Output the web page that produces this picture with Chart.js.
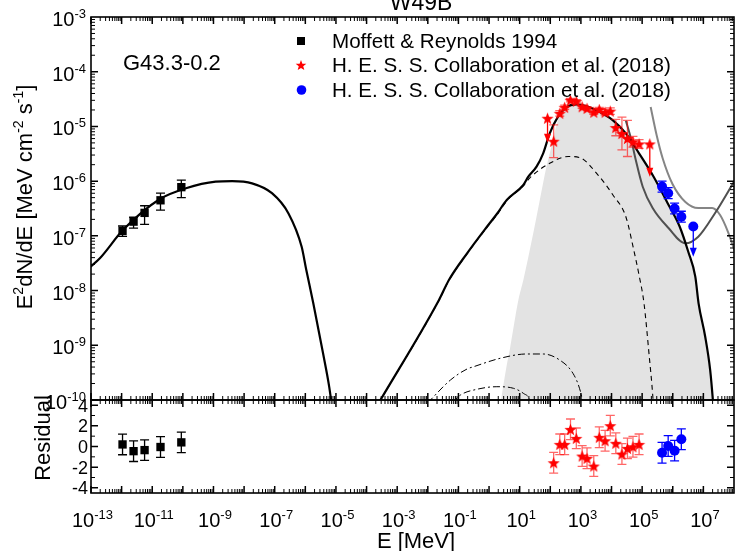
<!DOCTYPE html>
<html>
<head>
<meta charset="utf-8">
<title>W49B SED</title>
<script src="https://cdn.jsdelivr.net/npm/chart.js@4.4.1/dist/chart.umd.min.js"></script>
<style>
  html, body { margin: 0; padding: 0; background: #fff; }
  #wrap { position: relative; width: 741px; height: 551px; overflow: hidden; }
  #wrap canvas { position: absolute; left: 0; top: 0; }
</style>
</head>
<body>
<div id="wrap">
  <canvas id="sedChart" width="741" height="551"></canvas>
  <canvas id="resChart" width="741" height="551"></canvas>
</div>
<script>
// values: log10(E / MeV) and log10(E^2 dN/dE / MeV cm^-2 s^-1)

const chartTitle = 'W49B';
const sourceName = 'G43.3-0.2';
const legendLabels = ['Moffett & Reynolds 1994', 'H. E. S. S. Collaboration et al. (2018)', 'H. E. S. S. Collaboration et al. (2018)'];

// tick labels (exponents of ten) and residual ticks
const xTickExps = [-13, -11, -9, -7, -5, -3, -1, 1, 3, 5, 7];
const yTickExps = [-3, -4, -5, -6, -7, -8, -9, -10];
const resTickLabels = [4, 2, 0, -2, -4];

// radio points (Moffett & Reynolds 1994)
const radioLogE = [-11.97, -11.61, -11.25, -10.73, -10.05];
const radioLogF = [-6.91, -6.74, -6.58, -6.35, -6.11];
const radioLogFLo = [-7.01, -6.86, -6.79, -6.53, -6.30];
const radioLogFHi = [-6.82, -6.66, -6.45, -6.22, -5.98];
const radioRes = [0.2, -0.45, -0.35, -0.05, 0.4];

// GeV points (red stars)
const hessLogE = [2.11, 2.31, 2.47, 2.66, 2.85, 3.04, 3.20, 3.42, 3.60, 3.79, 3.96, 4.14, 4.34, 4.52, 4.70, 4.90];
const hessLogF = [-5.27, -4.76, -4.65, -4.52, -4.54, -4.64, -4.67, -4.74, -4.69, -4.74, -4.72, -5.02, -5.13, -5.22, -5.28, -5.32];
const hessErr = [0.3, 0.05, 0.04, 0.03, 0.03, 0.03, 0.03, 0.04, 0.04, 0.05, 0.06, 0.15, 0.3, 0.33, 0.1, 0.08];
const hessRes = [-1.57, 0.21, 0.21, 1.66, 0.79, -0.92, -1.14, -1.89, 0.89, 0.56, 2.02, 0.31, -0.73, -0.18, -0.02, 0.21];
const hessUlLogE = [1.91, 5.25];
const hessUlLogF = [-4.85, -5.32];
const hessUlTo = [-5.30, -5.92];

// TeV points (blue circles)
const tevLogE = [5.65, 5.85, 6.06, 6.28];
const tevLogF = [-6.10, -6.22, -6.50, -6.65];
const tevErr = [0.1, 0.1, 0.1, 0.1];
const tevRes = [-0.6, 0.05, -0.4, 0.7];
const tevUlLogE = [6.67];
const tevUlLogF = [-6.83];
const tevUlTo = [-7.38];

// model curves
const synLogE = [-13.05, -12.71, -11.95, -10.76, -9.90, -8.93, -8.39, -7.74, -7.09, -6.55, -6.12, -5.97, -5.74, -5.42, -5.22, -5.10];
const synLogF = [-7.58, -7.41, -6.89, -6.33, -6.13, -6.01, -6.00, -6.04, -6.22, -6.59, -7.20, -7.62, -8.23, -9.15, -9.76, -10.25];

const totLogE = [-3.62, -1.635, -1.311, -0.718, -0.069, 0.255, 0.579, 1.120, 1.282, 1.551, 1.768, 1.982, 2.254, 2.523, 2.847, 3.171, 3.602, 4.037, 4.468, 4.898, 5.375, 5.829, 6.218, 6.509, 6.736, 6.843, 7.060, 7.222, 7.310, 7.36];
const totLogF = [-10.07, -8.172, -7.807, -7.319, -6.833, -6.60, -6.345, -6.070, -5.919, -5.736, -5.491, -5.126, -4.822, -4.650, -4.596, -4.627, -4.731, -4.883, -5.126, -5.491, -5.919, -6.400, -6.820, -7.295, -7.746, -8.233, -8.843, -9.452, -10.0, -10.4];

const icLogE = [-3.62, -1.635, -1.311, -0.718, -0.069, 0.255, 0.579, 1.120, 1.334, 1.982, 2.588, 2.955, 3.560, 4.046, 4.468, 4.727, 4.898, 5.061, 5.223, 5.353, 5.40];
const icLogF = [-10.07, -8.18, -7.815, -7.33, -6.845, -6.62, -6.36, -6.085, -5.94, -5.674, -5.550, -5.568, -5.888, -6.253, -6.650, -7.259, -7.715, -8.233, -9.147, -9.969, -10.4];

const pionLogE = [0.36, 0.579, 0.676, 0.958, 1.120, 1.444, 1.658, 1.875, 2.037, 2.254, 2.523, 2.847, 3.171, 3.602, 4.037, 4.468, 4.898, 5.375, 5.829, 6.218, 6.509, 6.736, 6.843, 7.060, 7.222, 7.310, 7.36];
const pionLogF = [-10.1, -9.36, -9.086, -8.172, -7.807, -6.953, -6.345, -5.736, -5.370, -4.883, -4.663, -4.608, -4.64, -4.74, -4.89, -5.13, -5.50, -5.925, -6.405, -6.825, -7.30, -7.75, -8.235, -8.845, -9.455, -10.0, -10.4];

const dd1LogE = [-2.0, -1.259, -0.718, -0.5, 0.362, 1.227, 1.768, 2.306, 2.740, 2.954, 3.042, 3.08];
const dd1LogF = [-10.05, -9.634, -9.433, -9.391, -9.238, -9.159, -9.159, -9.269, -9.512, -9.786, -10.0, -10.2];
const dd2LogE = [-1.2, -0.935, -0.394, 0.255, 0.796, 1.120, 1.334, 1.40];
const dd2LogF = [-10.05, -9.909, -9.804, -9.757, -9.786, -9.878, -10.0, -10.15];

// sensitivity curves
const sens1LogE = [4.468, 4.630, 4.792, 5.019, 5.343, 5.861, 6.412, 6.833, 7.384, 8.033];
const sens1LogF = [-4.895, -5.211, -5.614, -6.102, -6.491, -6.856, -7.136, -7.016, -6.582, -5.979];
const sens2LogE = [5.278, 5.472, 5.667, 5.991, 6.412, 6.833, 7.287, 7.546, 7.806, 8.033];
const sens2LogF = [-4.645, -5.157, -5.577, -6.052, -6.381, -6.491, -6.491, -6.619, -6.930, -7.295];

const FONT = "'Liberation Sans', Arial, sans-serif";
const p10 = v => Math.pow(10, v);
const pts = (le, lf) => le.map((e, i) => ({ x: p10(e), y: p10(lf[i]) }));
const resPts = (le, r) => le.map((e, i) => ({ x: p10(e), y: r[i] }));

function makeStar(color, ro) {
  const s = Math.ceil(ro * 2 + 2), c = document.createElement('canvas');
  c.width = c.height = s;
  const g = c.getContext('2d');
  g.fillStyle = color;
  g.beginPath();
  for (let i = 0; i < 10; i++) {
    const r = i % 2 ? ro * 0.42 : ro;
    const a = -Math.PI / 2 + i * Math.PI / 5;
    g.lineTo(s / 2 + r * Math.cos(a), s / 2 + ro * 0.1 + r * Math.sin(a));
  }
  g.closePath();
  g.fill();
  return c;
}
const redStar = makeStar('#ff0000', 6.4);
const legendStar = makeStar('#ff0000', 5.6);

function rich(ctx, parts, x, y, align, size, supSize, rise) {
  let w = 0;
  parts.forEach(([t, sup]) => { ctx.font = `${sup ? supSize : size}px ${FONT}`; w += ctx.measureText(t).width; });
  let cx = align === 'center' ? x - w / 2 : align === 'right' ? x - w : x;
  ctx.textAlign = 'left';
  ctx.textBaseline = 'alphabetic';
  parts.forEach(([t, sup]) => {
    ctx.font = `${sup ? supSize : size}px ${FONT}`;
    ctx.fillText(t, cx, sup ? y - rise : y);
    cx += ctx.measureText(t).width;
  });
}
const power = (ctx, e, x, y, align) => rich(ctx, [['10'], [String(e), 1]], x, y, align, 20, 13, 8);

// inward ticks on all four sides of a panel
const frame = {
  id: 'frame',
  afterDatasetsDraw(chart) {
    const { ctx, chartArea: a } = chart;
    const xs = chart.scales.x, ys = chart.scales.y;
    ctx.save();
    ctx.strokeStyle = '#000';
    const minor = new Path2D(), major = new Path2D();
    const seg = (p, x1, y1, x2, y2) => { p.moveTo(x1, y1); p.lineTo(x2, y2); };
    for (let e = -13; e < 8; e++) {
      for (let m = 1; m <= 9; m++) {
        const px = xs.getPixelForValue(m * p10(e));
        const p = m === 1 ? major : minor, len = m === 1 ? 7 : 4;
        seg(p, px, a.top, px, a.top + len);
        seg(p, px, a.bottom, px, a.bottom - len);
      }
    }
    if (ys.type === 'logarithmic') {
      for (let e = -10; e < -3; e++) {
        for (let m = 1; m <= 9; m++) {
          const py = ys.getPixelForValue(m * p10(e));
          const p = m === 1 ? major : minor, len = m === 1 ? 7 : 4;
          seg(p, a.left, py, a.left + len, py);
          seg(p, a.right, py, a.right - len, py);
        }
      }
    } else {
      for (let v = -4; v <= 4; v++) {
        const py = ys.getPixelForValue(v);
        const p = v % 2 === 0 ? major : minor, len = v % 2 === 0 ? 7 : 4;
        seg(p, a.left, py, a.left + len, py);
        seg(p, a.right, py, a.right - len, py);
      }
    }
    ctx.lineWidth = 1;
    ctx.stroke(minor);
    ctx.lineWidth = 1.5;
    ctx.stroke(major);
    ctx.lineWidth = 1.6;
    ctx.strokeRect(a.left, a.top, a.width, a.height);
    ctx.restore();
  }
};

// error bars and upper-limit arrows, drawn just under each marker dataset
const errorBars = {
  id: 'errorBars',
  beforeDatasetDraw(chart, args) {
    const ds = chart.data.datasets[args.index];
    if (!ds.errLo && !ds.ulTo) return;
    const { ctx } = chart;
    const xs = chart.scales.x, ys = chart.scales.y;
    ctx.save();
    ctx.strokeStyle = ds.errColor;
    ctx.fillStyle = ds.errColor;
    ctx.lineWidth = 1.3;
    ds.data.forEach((p, i) => {
      const px = xs.getPixelForValue(p.x);
      if (ds.errLo) {
        const t = ys.getPixelForValue(ds.errHi[i]), b = ys.getPixelForValue(ds.errLo[i]);
        ctx.beginPath();
        ctx.moveTo(px, t); ctx.lineTo(px, b);
        ctx.moveTo(px - 4.5, t); ctx.lineTo(px + 4.5, t);
        ctx.moveTo(px - 4.5, b); ctx.lineTo(px + 4.5, b);
        ctx.stroke();
      }
      if (ds.ulTo) {
        const t = ys.getPixelForValue(p.y), b = ys.getPixelForValue(ds.ulTo[i]);
        ctx.beginPath();
        ctx.moveTo(px, t); ctx.lineTo(px, b - 7);
        ctx.stroke();
        ctx.beginPath();
        ctx.moveTo(px - 3.5, b - 9); ctx.lineTo(px + 3.5, b - 9); ctx.lineTo(px, b);
        ctx.closePath();
        ctx.fill();
      }
    });
    ctx.restore();
  }
};

const sedText = {
  id: 'sedText',
  afterDraw(chart) {
    const { ctx, chartArea: a } = chart;
    const ys = chart.scales.y;
    ctx.save();
    ctx.fillStyle = '#000';
    ctx.font = `23px ${FONT}`;
    ctx.textAlign = 'center';
    ctx.textBaseline = 'alphabetic';
    ctx.fillText(chartTitle, 421, 10);
    ctx.textAlign = 'left';
    ctx.font = `22px ${FONT}`;
    ctx.fillText(sourceName, 123, 70);

    yTickExps.forEach(e => power(ctx, e, a.left - 5, ys.getPixelForValue(p10(e)) + 9, 'right'));

    // legend
    ctx.fillRect(297, 37, 8, 8);
    ctx.drawImage(legendStar, 301 - legendStar.width / 2, 65 - legendStar.height / 2);
    ctx.fillStyle = '#0000ff';
    ctx.beginPath(); ctx.arc(301.5, 90, 4.8, 0, Math.PI * 2); ctx.fill();
    ctx.fillStyle = '#000';
    ctx.font = `20.6px ${FONT}`;
    ctx.textAlign = 'left';
    ctx.fillText(legendLabels[0], 332, 48);
    ctx.fillText(legendLabels[1], 332, 72);
    ctx.fillText(legendLabels[2], 332, 97);

    ctx.translate(32, 197);
    ctx.rotate(-Math.PI / 2);
    rich(ctx, [['E'], ['2', 1], ['dN/dE [MeV cm'], ['-2', 1], [' s'], ['-1', 1], [']']], 0, 0, 'center', 22, 14, 9);
    ctx.restore();
  }
};

const resText = {
  id: 'resText',
  afterDraw(chart) {
    const { ctx, chartArea: a } = chart;
    const xs = chart.scales.x, ys = chart.scales.y;
    ctx.save();
    ctx.fillStyle = '#000';
    xTickExps.forEach(e => power(ctx, e, xs.getPixelForValue(p10(e)) + 1.5, a.bottom + 34, 'center'));
    ctx.font = `18px ${FONT}`;
    ctx.textAlign = 'right';
    ctx.textBaseline = 'middle';
    resTickLabels.forEach(v => ctx.fillText(String(v), 88, ys.getPixelForValue(v) + 1.5));
    ctx.font = `22px ${FONT}`;
    ctx.textAlign = 'center';
    ctx.textBaseline = 'alphabetic';
    ctx.fillText('E [MeV]', 416, 548);
    ctx.translate(50, 438);
    ctx.rotate(-Math.PI / 2);
    ctx.fillText('Residual', 0, 0);
    ctx.restore();
  }
};

const line = (data, color, width, dash) => ({
  data, showLine: true, borderColor: color, borderWidth: width, borderDash: dash || [],
  pointRadius: 0, fill: false, cubicInterpolationMode: 'monotone', clip: 0
});

const errColors = { radio: '#000', hess: 'rgba(255,0,0,0.6)', tev: '#0000ff' };

new Chart(document.getElementById('sedChart'), {
  type: 'scatter',
  data: {
    datasets: [
      {
        label: legendLabels[2], data: pts(tevLogE, tevLogF), pointStyle: 'circle', pointRadius: 5,
        backgroundColor: '#0000ff', borderWidth: 0, clip: 0,
        errLo: tevLogF.map((f, i) => p10(f - tevErr[i])), errHi: tevLogF.map((f, i) => p10(f + tevErr[i])), errColor: errColors.tev
      },
      {
        data: pts(tevUlLogE, tevUlLogF), pointStyle: 'circle', pointRadius: 5, backgroundColor: '#0000ff',
        borderWidth: 0, clip: 0, ulTo: tevUlTo.map(p10), errColor: '#0000ff'
      },
      {
        label: legendLabels[1], data: pts(hessLogE, hessLogF), pointStyle: redStar, pointRadius: 6, clip: 0,
        errLo: hessLogF.map((f, i) => p10(f - hessErr[i])), errHi: hessLogF.map((f, i) => p10(f + hessErr[i])), errColor: errColors.hess
      },
      {
        data: pts(hessUlLogE, hessUlLogF), pointStyle: redStar, pointRadius: 6, clip: 0,
        ulTo: hessUlTo.map(p10), errColor: '#ff0000'
      },
      {
        label: legendLabels[0], data: pts(radioLogE, radioLogF), pointStyle: 'rect', pointRadius: 5.9,
        backgroundColor: '#000', borderWidth: 0, clip: 0,
        errLo: radioLogFLo.map(p10), errHi: radioLogFHi.map(p10), errColor: errColors.radio
      },
      line(pts(synLogE, synLogF), '#000', 2.2),
      line(pts(totLogE, totLogF), '#000', 2.2),
      line(pts(sens1LogE, sens1LogF), '#505050', 2),
      line(pts(sens2LogE, sens2LogF), '#858585', 2),
      line(pts(icLogE, icLogF), '#000', 1.1, [5, 4]),
      line(pts(dd1LogE, dd1LogF), '#000', 1, [7, 3, 2, 3]),
      line(pts(dd2LogE, dd2LogF), '#000', 1, [7, 3, 2, 3]),
      {
        data: pts(pionLogE, pionLogF), showLine: true, borderWidth: 0, borderColor: 'rgba(0,0,0,0)',
        backgroundColor: '#e3e3e3', fill: 'start', pointRadius: 0, cubicInterpolationMode: 'monotone', clip: 0
      }
    ]
  },
  options: {
    responsive: false,
    animation: false,
    events: [],
    layout: { padding: { left: 91, top: 17, right: 2, bottom: 151 } },
    plugins: { legend: { display: false }, tooltip: { enabled: false } },
    scales: {
      x: { type: 'logarithmic', min: 1e-13, max: 1e8, display: false },
      y: { type: 'logarithmic', min: 1e-10, max: 1e-3, display: false }
    }
  },
  plugins: [errorBars, frame, sedText]
});

new Chart(document.getElementById('resChart'), {
  type: 'scatter',
  data: {
    datasets: [
      {
        data: resPts(tevLogE, tevRes), pointStyle: 'circle', pointRadius: 5, backgroundColor: '#0000ff', borderWidth: 0, clip: 0,
        errLo: tevRes.map(r => r - 1), errHi: tevRes.map(r => r + 1), errColor: errColors.tev
      },
      {
        data: resPts(hessLogE, hessRes), pointStyle: redStar, pointRadius: 6, clip: 0,
        errLo: hessRes.map(r => r - 1), errHi: hessRes.map(r => r + 1), errColor: errColors.hess
      },
      {
        data: resPts(radioLogE, radioRes), pointStyle: 'rect', pointRadius: 5.9, backgroundColor: '#000', borderWidth: 0, clip: 0,
        errLo: radioRes.map(r => r - 1), errHi: radioRes.map(r => r + 1), errColor: errColors.radio
      }
    ]
  },
  options: {
    responsive: false,
    animation: false,
    events: [],
    layout: { padding: { left: 91, top: 400, right: 2, bottom: 58 } },
    plugins: { legend: { display: false }, tooltip: { enabled: false } },
    scales: {
      x: { type: 'logarithmic', min: 1e-13, max: 1e8, display: false },
      y: { type: 'linear', min: -4.5, max: 4.5, display: false }
    }
  },
  plugins: [errorBars, frame, resText]
});
</script>
</body>
</html>
